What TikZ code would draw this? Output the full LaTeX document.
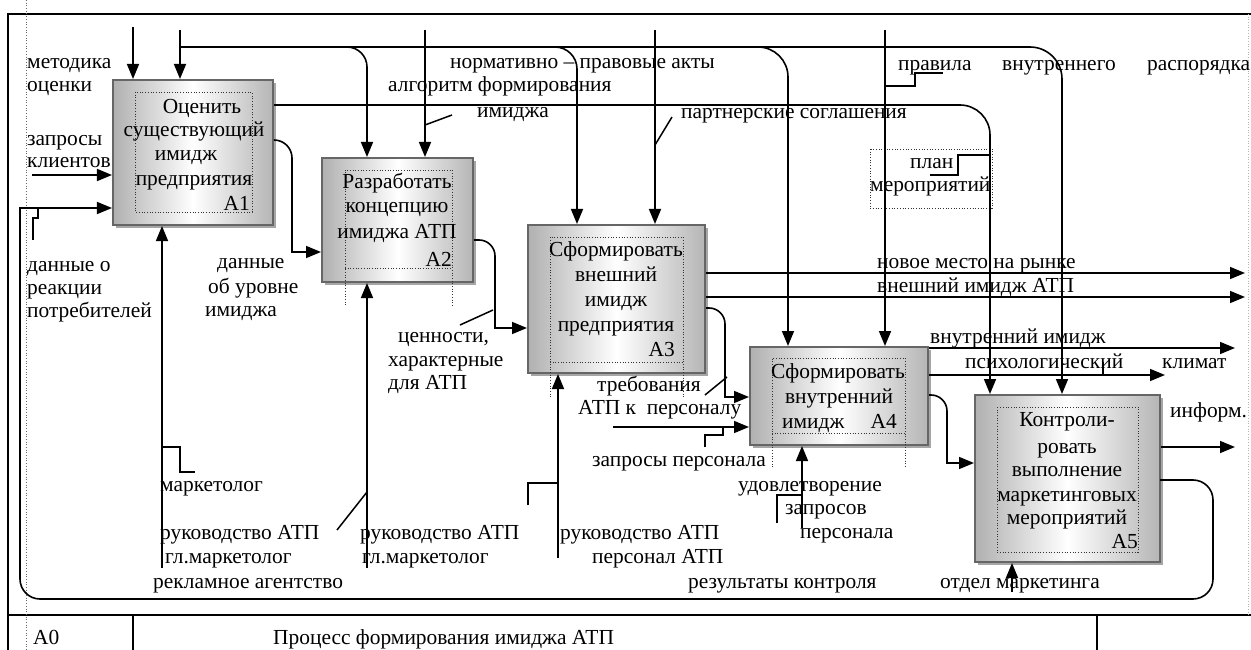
\documentclass[tikz,border=0pt]{standalone}
\usepackage{fontspec}
\setmainfont{Liberation Serif}
\usetikzlibrary{arrows.meta,shadows}
\begin{document}
\begin{tikzpicture}[x=1bp,y=-1bp,
 lbl/.style={anchor=base west,inner sep=0pt,font=\fontsize{21.5}{24}\selectfont},
 ctr/.style={anchor=base,inner sep=0pt,font=\fontsize{21.5}{24}\selectfont},
 rgt/.style={anchor=base east,inner sep=0pt,font=\fontsize{21.5}{24}\selectfont},
 arr/.style={line width=1.6bp,-{Triangle[length=15bp,width=12bp]}},
 ln/.style={line width=1.6bp},
 sq/.style={line width=1.5bp},
 frm/.style={line width=2bp},
 fn/.style={draw=gray!80!black,line width=2bp,left color=gray!62,right color=gray!58,middle color=white,
   general shadow={fill=gray!70,shadow xshift=3bp,shadow yshift=-3bp},inner sep=0pt},
 dt/.style={dotted,line width=0.7bp,black!80}]
\useasboundingbox (0,0) rectangle (1251,650);
\fill[white] (0,0) rectangle (1251,650);

% frame
\draw[frm] (8,650) -- (8,14) -- (1251,14);
\draw[frm] (8,615) -- (1251,615);
\draw[line width=1.3bp] (133,615) -- (133,650);
\draw[line width=1.3bp] (1097,615) -- (1097,650);
\draw[dt,black!60] (26,0) -- (26,650);
\draw[dt,black!30] (1248,14) -- (1248,615);

% boxes
\node[fn,minimum width=160bp,minimum height=145bp] (A1) at (193,152.5) {};
\node[fn,minimum width=151bp,minimum height=124bp] (A2) at (397.5,220) {};
\node[fn,minimum width=177bp,minimum height=148bp] (A3) at (616.5,299) {};
\node[fn,minimum width=178bp,minimum height=98bp] (A4) at (839,396) {};
\node[fn,minimum width=185bp,minimum height=167bp] (A5) at (1067.5,478.5) {};

% dotted text frames
\draw[dt] (135,92) rectangle (252,212);
\draw[dt] (345,305) -- (345,170) -- (452,170) -- (452,305);
\draw[dt] (345,268) -- (452,268);
\draw[dt] (550,397) -- (550,237) -- (683,237) -- (683,397);
\draw[dt] (550,362) -- (683,362);
\draw[dt] (772,467) -- (772,358) -- (905,358) -- (905,467);
\draw[dt] (772,433) -- (905,433);
\draw[dt] (997,407) rectangle (1138,552);
\draw[dt] (870,149) rectangle (992,208);

% top controls
\coordinate (t1) at (133,27);
\coordinate (t2) at (180,30);
\draw[arr] (t1) -- (t1 |- A1.north);
\draw[arr] (t2) -- (t2 |- A1.north);
\coordinate (h0) at (180,47);
\coordinate (h2) at (367,47);
\coordinate (h3) at (577,47);
\coordinate (h4) at (788,47);
\coordinate (h5) at (1062,47);
\draw[arr,rounded corners=20bp] (h0) -- (h2) -- (h2 |- A2.north);
\draw[arr,rounded corners=22bp] (h0) -- (h3) -- (h3 |- A3.north);
\draw[arr,rounded corners=30bp] (h0) -- (h4) -- (h4 |- A4.north);
\draw[arr,rounded corners=32bp] (h0) -- (h5) -- (h5 |- A5.north);
\coordinate (t3) at (425,30);
\coordinate (t4) at (655,30);
\coordinate (t5) at (885,30);
\draw[arr] (t3) -- (t3 |- A2.north);
\draw[arr] (t4) -- (t4 |- A3.north);
\draw[arr] (t5) -- (t5 |- A4.north);
\coordinate (p1) at (990,105);
\draw[arr,rounded corners=30bp] (A1.east |- p1) -- (p1) -- (p1 |- A5.north);

% inputs
\coordinate (i1) at (32,175);
\draw[arr] (i1) -- (i1 -| A1.west);
\coordinate (i2) at (613,427);
\draw[arr] (i2) -- (i2 -| A4.west);

% feedback
\coordinate (f1) at (1213,480);
\coordinate (f2) at (1213,599);
\coordinate (f3) at (20,599);
\coordinate (f4) at (20,208);
\draw[ln,line cap=rect,rounded corners=20bp] (A5.east |- f1) -- (f1) -- (f2) -- (f3) -- (f4);
\draw[arr] (f4) -- (f4 -| A1.west);

% box to box
\coordinate (d1) at (292,140); \coordinate (d1m) at (292,200); \coordinate (d2) at (292,252);
\draw[ln,rounded corners=18bp] (A1.east |- d1) -- (d1) -- (d1m);
\draw[arr] (d1m) -- (d2) -- (d2 -| A2.west);
\coordinate (e1) at (495,240); \coordinate (e1m) at (495,290); \coordinate (e2) at (495,328);
\draw[ln,rounded corners=16bp] (A2.east |- e1) -- (e1) -- (e1m);
\draw[arr] (e1m) -- (e2) -- (e2 -| A3.west);
\coordinate (g1) at (725,308); \coordinate (g1m) at (725,350); \coordinate (g2) at (725,397);
\draw[ln,rounded corners=16bp] (A3.east |- g1) -- (g1) -- (g1m);
\draw[arr] (g1m) -- (g2) -- (g2 -| A4.west);
\coordinate (k1) at (947,395); \coordinate (k1m) at (947,430); \coordinate (k2) at (947,463);
\draw[ln,rounded corners=16bp] (A4.east |- k1) -- (k1) -- (k1m);
\draw[arr] (k1m) -- (k2) -- (k2 -| A5.west);

% outputs
\coordinate (o1) at (1245,273); \coordinate (o2) at (1245,297);
\coordinate (o3) at (1235,348); \coordinate (o4) at (1165,375);
\coordinate (o5) at (1235,447);
\draw[arr] (o1 -| A3.east) -- (o1);
\draw[arr] (o2 -| A3.east) -- (o2);
\draw[arr] (o3 -| A4.east) -- (o3);
\draw[arr] (o4 -| A4.east) -- (o4);
\draw[arr] (o5 -| A5.east) -- (o5);

% mechanisms
\coordinate (m1) at (162,568); \coordinate (m2) at (367,568);
\coordinate (m3) at (558,558); \coordinate (m4) at (802,528);
\coordinate (m5) at (1012,592);
\draw[arr] (m1) -- (m1 |- A1.south);
\draw[arr] (m2) -- (m2 |- A2.south);
\draw[arr] (m3) -- (m3 |- A3.south);
\draw[arr] (m4) -- (m4 |- A4.south);
\draw[arr] (m5) -- (m5 |- A5.south);

% squiggles
\draw[sq] (38,208) -- (38,218) -- (33,218) -- (33,240);
\draw[sq] (162,447) -- (180,447) -- (180,472) -- (195,472);
\draw[sq] (337,530) -- (367,492);
\draw[sq] (528,505) -- (528,483) -- (558,483);
\draw[sq] (777,523) -- (777,495) -- (802,495);
\draw[sq] (705,447) -- (705,435) -- (723,435) -- (723,427);
\draw[sq] (705,395) -- (727,377);
\draw[sq] (460,325) -- (493,310);
\draw[sq] (425,125) -- (452,115);
\draw[sq] (655,145) -- (672,117);
\draw[sq] (885,86) -- (915,86) -- (915,73) -- (943,73);
\draw[sq] (930,175) -- (958,175) -- (958,155) -- (990,155);
\draw[sq] (1103,362) -- (1103,375);

% box texts
\node[ctr] (a1a) at (202,114) {Оценить};
\node[ctr] (a1b) at (194,137) {существующий};
\node[ctr] (a1c) at (186,161) {имидж};
\node[ctr] (a1d) at (194,186) {предприятия};
\node[rgt] (a1n) at (250,211) {A1};
\node[ctr] (a2a) at (397,189) {Разработать};
\node[ctr] (a2b) at (397,213) {концепцию};
\node[ctr] (a2c) at (397,239) {имиджа АТП};
\node[rgt] (a2n) at (452,266) {A2};
\node[ctr] (a3a) at (616,256) {Сформировать};
\node[ctr] (a3b) at (616,281) {внешний};
\node[ctr] (a3c) at (616,306) {имидж};
\node[ctr] (a3d) at (616,331) {предприятия};
\node[rgt] (a3n) at (675,356) {A3};
\node[ctr] (a4a) at (838,378) {Сформировать};
\node[ctr] (a4b) at (839,403) {внутренний};
\node[lbl] (a4c) at (782,428) {имидж};
\node[rgt] (a4n) at (897,428) {A4};
\node[ctr] (a5a) at (1067,426) {Контроли-};
\node[ctr] (a5b) at (1067,453) {ровать};
\node[ctr] (a5c) at (1067,476) {выполнение};
\node[ctr] (a5d) at (1067,501) {маркетинговых};
\node[ctr] (a5e) at (1067,524) {мероприятий};
\node[rgt] (a5n) at (1138,548) {A5};

% labels
\node[lbl] (l1) at (27,69) {методика};
\node[lbl] (l2) at (27,92) {оценки};
\node[lbl] (l3) at (27,146) {запросы};
\node[lbl] (l4) at (27,168) {клиентов};
\node[lbl] (l5) at (27,271) {данные о};
\node[lbl] (l6) at (27,294) {реакции};
\node[lbl] (l7) at (27,317) {потребителей};
\node[lbl] (l8) at (217,268) {данные};
\node[lbl] (l9) at (208,293) {об уровне};
\node[lbl] (l10) at (205,316) {имиджа};
\node[lbl] (l11) at (450,69) {нормативно – правовые акты};
\node[lbl] (l12) at (388,92) {алгоритм формирования};
\node[lbl] (l13) at (477,118) {имиджа};
\node[lbl] (l14) at (681,119) {партнерские соглашения};
\node[lbl] (l15) at (898,71) {правила};
\node[lbl] (l16) at (1002,71) {внутреннего};
\node[lbl] (l17) at (1147,71) {распорядка};
\node[lbl] (l18) at (910,169) {план};
\node[lbl] (l19) at (870,192) {мероприятий};
\node[lbl] (l20) at (398,342) {ценности,};
\node[lbl] (l21) at (388,366) {характерные};
\node[lbl] (l22) at (388,389) {для АТП};
\node[lbl] (l23) at (597,391) {требования};
\node[lbl] (l24) at (578,414) {АТП к~ персоналу};
\node[lbl] (l25) at (592,466) {запросы персонала};
\node[lbl] (l26) at (877,268) {новое место на рынке};
\node[lbl] (l27) at (877,292) {внешний имидж АТП};
\node[lbl] (l28) at (930,343) {внутренний имидж};
\node[lbl] (l29) at (965,368) {психологический};
\node[lbl] (l30) at (1162,368) {климат};
\node[lbl] (l31) at (1170,417) {информ.};
\node[lbl] (l32) at (160,491) {маркетолог};
\node[lbl] (l33) at (160,539) {руководство АТП};
\node[lbl] (l34) at (165,563) {гл.маркетолог};
\node[lbl] (l35) at (153,588) {рекламное агентство};
\node[lbl] (l36) at (360,539) {руководство АТП};
\node[lbl] (l37) at (362,563) {гл.маркетолог};
\node[lbl] (l38) at (560,539) {руководство АТП};
\node[lbl] (l39) at (592,563) {персонал АТП};
\node[lbl] (l40) at (738,491) {удовлетворение};
\node[lbl] (l41) at (785,514) {запросов};
\node[lbl] (l42) at (800,538) {персонала};
\node[lbl] (l43) at (688,588) {результаты контроля};
\node[lbl] (l44) at (940,588) {отдел маркетинга};
\node[lbl] (l45) at (33,644) {A0};
\node[lbl] (l46) at (273,644) {Процесс формирования имиджа АТП};
\end{tikzpicture}
\end{document}
